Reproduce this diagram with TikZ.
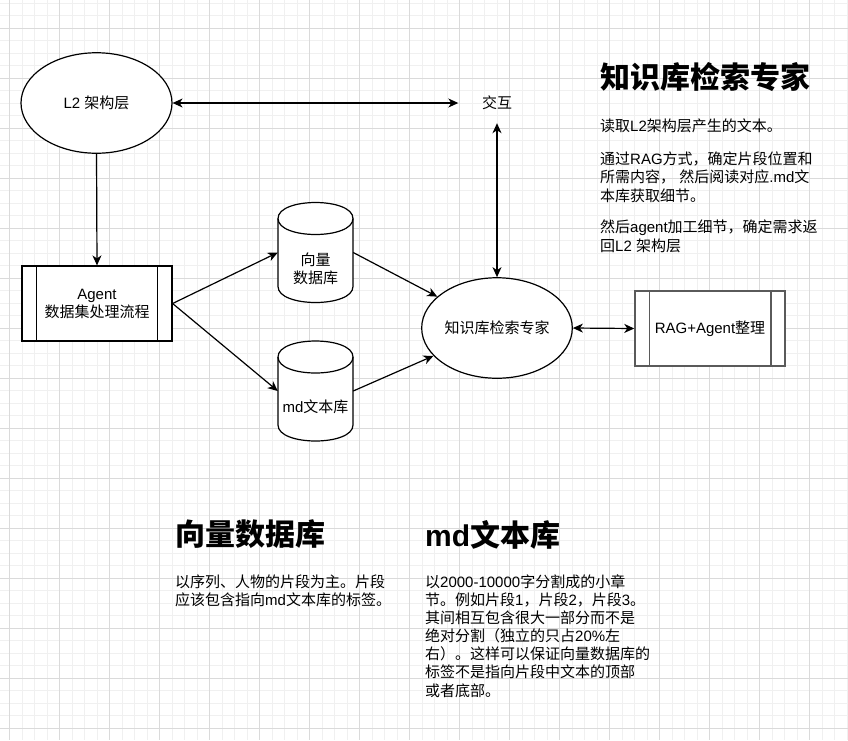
\documentclass[tikz,border=0pt]{standalone}
\usepackage{fontspec}
\setmainfont{Noto Sans CJK SC}
\newfontfamily\lat{Liberation Sans}
\usetikzlibrary{shapes.geometric,arrows.meta}
\newcommand\La[1]{{\lat #1}}
\definecolor{gridminor}{HTML}{F0F0F0}
\definecolor{gridmajor}{HTML}{DADADA}
\definecolor{ragstroke}{HTML}{5A5A5A}
\newcommand\cylpath[4]{%
  \draw[shp] (#1,{#2+16}) .. controls (#1,{#2-5.33}) and (#3,{#2-5.33}) .. (#3,{#2+16})
     -- (#3,{#4-16}) .. controls (#3,{#4+5.33}) and (#1,{#4+5.33}) .. (#1,{#4-16}) -- cycle;
  \draw[shp,fill=none] (#1,{#2+16}) .. controls (#1,{#2+37.33}) and (#3,{#2+37.33}) .. (#3,{#2+16});
}
\begin{document}
\begin{tikzpicture}[x=1pt,y=-1pt,
  shp/.style={draw=black, line width=1.2pt, fill=white},
  fnt/.style={font=\fontsize{15}{18}\selectfont},
  lbl/.style={fnt, inner sep=0pt, align=center},
  body/.style={fnt, inner sep=0pt, anchor=west},
  ttl/.style={font=\fontsize{30}{36}\selectfont\bfseries, inner sep=0pt, anchor=west},
  ell/.style={shp, ellipse, minimum width=151pt, minimum height=100.5pt, inner sep=0pt, fnt},
  proc/.style={shp, rectangle, minimum width=150pt, minimum height=75pt, inner sep=0pt, fnt, align=center},
  cylbox/.style={rectangle, minimum width=75pt, minimum height=100pt, inner sep=0pt},
  tip/.tip={Stealth[length=10pt,width=9pt,inset=3pt]},
  conn/.style={line width=1.2pt, -tip},
  dconn/.style={line width=1.2pt, tip-tip}
]
\useasboundingbox (0,0) rectangle (848,740);
\fill[white] (0,0) rectangle (848,740);
% grid
\foreach \i in {-1,...,67} \draw[gridminor, line width=1pt] ({9.8+12.5*\i},0) -- ({9.8+12.5*\i},740);
\foreach \j in {-2,...,56} \draw[gridminor, line width=1pt] (0,{28.3+12.5*\j}) -- (848,{28.3+12.5*\j});
\foreach \i in {0,...,16} \draw[gridmajor, line width=1pt] ({9.8+50*\i},0) -- ({9.8+50*\i},740);
\foreach \j in {-1,...,14} \draw[gridmajor, line width=1pt] (0,{28.3+50*\j}) -- (848,{28.3+50*\j});

% shapes
\node[ell] (l2) at (96.5,103) {\La{L2 }架构层};
\node[lbl, minimum width=77pt, minimum height=40pt] (jh) at (497,103) {交互};
\node[proc] (agent) at (97,303.5) {\La{Agent}\\数据集处理流程};
\draw[line width=1.2pt] ([xshift=15pt]agent.north west) -- ([xshift=15pt]agent.south west);
\draw[line width=1.2pt] ([xshift=-15pt]agent.north east) -- ([xshift=-15pt]agent.south east);

\node[cylbox] (vec) at (315.5,252.5) {};
\cylpath{278}{202.5}{353}{302.5}
\node[lbl] (vect) at (315.5,269) {向量\\数据库};

\node[cylbox] (md) at (315.5,391) {};
\cylpath{278}{341}{353}{441}
\node[lbl] (mdt) at (315.5,407) {\La{md}文本库};

\node[ell, minimum width=150.6pt] (kb) at (497,328) {知识库检索专家};
\node[proc, draw=ragstroke, line width=1.5pt] (rag) at (710,328.5) {\La{RAG+Agent}整理};
\draw[ragstroke, line width=1.5pt] ([xshift=15pt]rag.north west) -- ([xshift=15pt]rag.south west);
\draw[ragstroke, line width=1.5pt] ([xshift=-15pt]rag.north east) -- ([xshift=-15pt]rag.south east);

% connectors
\draw[conn] (l2.south) -- (agent.north);
\draw[dconn] (l2.east) -- (jh.west);
\draw[dconn] (jh.south) -- (kb.north);
\draw[conn] (agent.east) -- (vec.west);
\draw[conn] (agent.east) -- (md.west);
\draw[conn] (vec.east) -- (kb);
\draw[conn] (md.east) -- (kb);
\draw[dconn] (kb.east) -- (rag.west);

% text block top right
\node[ttl] (h1) at (600,77.5) {知识库检索专家};
\node[body] (t1) at (600,126.3) {读取\La{L2}架构层产生的文本。};
\node[body] (t2) at (600,158.8) {通过\La{RAG}方式，确定片段位置和};
\node[body] (t3) at (600,177.3) {所需内容，\La{ }然后阅读对应\La{.md}文};
\node[body] (t4) at (600,195.8) {本库获取细节。};
\node[body] (t5) at (600,227.8) {然后\La{agent}加工细节，确定需求返};
\node[body] (t6) at (600,246.3) {回\La{L2 }架构层};

% text block bottom left
\node[ttl] (h2) at (175,534.5) {向量数据库};
\node[body] (b1) at (175,581.7) {以序列、人物的片段为主。片段};
\node[body] (b2) at (175,599.9) {应该包含指向\La{md}文本库的标签。};

% text block bottom right
\node[ttl] (h3) at (425,534.5) {\La{md}文本库};
\node[body] (c1) at (425,581.7) {以\La{2000-10000}字分割成的小章};
\node[body] (c2) at (425,599.8) {节。例如片段\La{1}，片段\La{2}，片段\La{3}。};
\node[body] (c3) at (425,617.9) {其间相互包含很大一部分而不是};
\node[body] (c4) at (425,636.0) {绝对分割（独立的只占\La{20\%}左};
\node[body] (c5) at (425,654.1) {右）。这样可以保证向量数据库的};
\node[body] (c6) at (425,672.2) {标签不是指向片段中文本的顶部};
\node[body] (c7) at (425,690.3) {或者底部。};
\end{tikzpicture}
\end{document}
